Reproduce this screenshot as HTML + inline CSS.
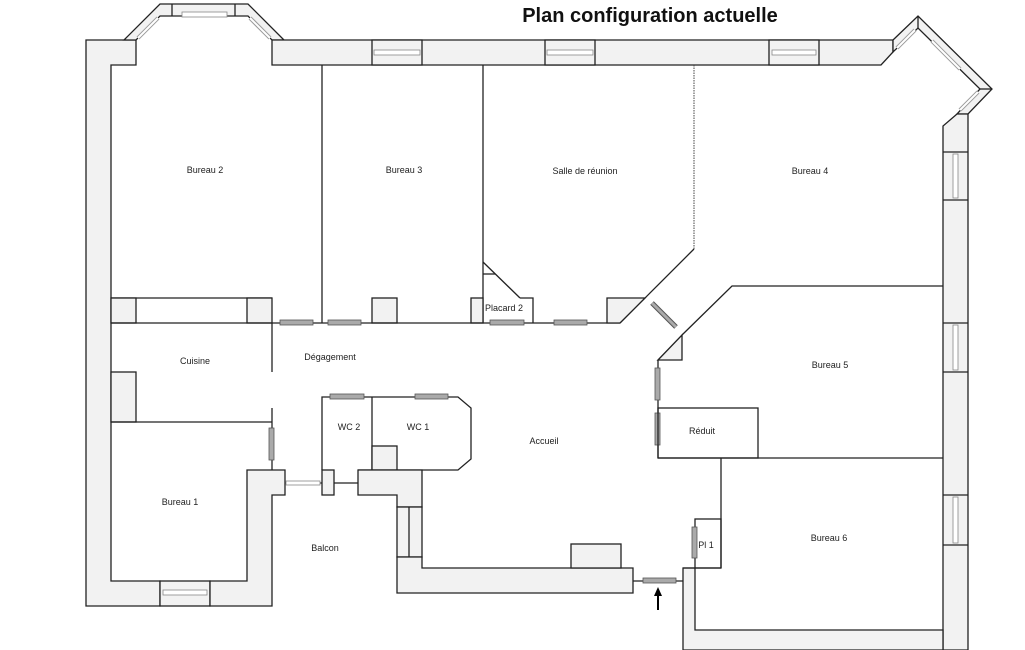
<!DOCTYPE html>
<html><head><meta charset="utf-8"><style>
html,body{margin:0;padding:0;background:#fff;}
svg{display:block;}
text{font-family:"Liberation Sans",Arial,sans-serif;font-size:9px;fill:#222;}
.w{fill:#f2f2f2;stroke:#222;stroke-width:1.3;}
.l{stroke:#222;stroke-width:1.3;fill:none;}
.g{fill:#aaa;stroke:#555;stroke-width:0.8;}
.o{fill:#fff;stroke:#888;stroke-width:0.8;}
</style></head><body>
<svg width="1025" height="650" viewBox="0 0 1025 650" xmlns="http://www.w3.org/2000/svg">
<text x="650" y="22" text-anchor="middle" style="font-size:20px;font-weight:bold;fill:#111">Plan configuration actuelle</text>

<!-- left outer wall -->
<polygon class="w" points="86,40 136,40 136,65 111,65 111,581 160,581 160,606 86,606"/>
<rect class="w" x="160" y="581" width="50" height="25"/>
<rect class="o" x="163" y="590" width="44" height="5"/>
<polygon class="w" points="210,581 247,581 247,470 285,470 285,495 272,495 272,606 210,606"/>
<!-- NW bay -->
<polygon class="w" points="124,40 160,4 248,4 284,40 272,40 248,16 160,16 136,40"/>
<line class="l" x1="172" y1="4" x2="172" y2="16"/><line class="l" x1="235" y1="4" x2="235" y2="16"/>
<rect class="o" x="182" y="12" width="45" height="5"/>
<line x1="138" y1="38" x2="158" y2="18" stroke="#999" stroke-width="4"/>
<line x1="138" y1="38" x2="158" y2="18" stroke="#fff" stroke-width="2"/>
<line x1="250" y1="18" x2="270" y2="38" stroke="#999" stroke-width="4"/>
<line x1="250" y1="18" x2="270" y2="38" stroke="#fff" stroke-width="2"/>
<!-- top wall -->
<polygon class="w" points="272,40 893,40 893,52 881,65 272,65"/>
<rect class="w" x="372" y="40" width="50" height="25"/><rect class="o" x="374" y="50" width="46" height="5"/>
<rect class="w" x="545" y="40" width="50" height="25"/><rect class="o" x="547" y="50" width="46" height="5"/>
<rect class="w" x="769" y="40" width="50" height="25"/><rect class="o" x="772" y="50" width="44" height="5"/>
<!-- NE bay -->
<polygon class="w" points="893,40 918,16 992,89 968,114 957,114 980,89 918,28 893,52"/>
<line class="l" x1="918" y1="16" x2="918" y2="28"/><line class="l" x1="980" y1="89" x2="992" y2="89"/>
<line x1="897" y1="48" x2="915" y2="30" stroke="#999" stroke-width="4"/><line x1="897" y1="48" x2="915" y2="30" stroke="#fff" stroke-width="2"/>
<line x1="932" y1="41" x2="960" y2="69" stroke="#999" stroke-width="4"/><line x1="932" y1="41" x2="960" y2="69" stroke="#fff" stroke-width="2"/>
<line x1="960" y1="110" x2="978" y2="92" stroke="#999" stroke-width="4"/><line x1="960" y1="110" x2="978" y2="92" stroke="#fff" stroke-width="2"/>
<!-- right wall -->
<polygon class="w" points="957,114 968,114 968,650 943,650 943,126"/>
<line class="l" x1="943" y1="152" x2="968" y2="152"/><line class="l" x1="943" y1="200" x2="968" y2="200"/>
<rect class="o" x="953" y="154" width="5" height="44"/>
<line class="l" x1="943" y1="323" x2="968" y2="323"/><line class="l" x1="943" y1="372" x2="968" y2="372"/>
<rect class="o" x="953" y="325" width="5" height="45"/>
<line class="l" x1="943" y1="495" x2="968" y2="495"/><line class="l" x1="943" y1="545" x2="968" y2="545"/>
<rect class="o" x="953" y="497" width="5" height="46"/>
<!-- bottom right wall -->
<polygon class="w" points="683,568 695,568 695,630 943,630 943,650 683,650"/>

<!-- interior walls top rooms -->
<line class="l" x1="322" y1="65" x2="322" y2="323"/>
<line class="l" x1="483" y1="65" x2="483" y2="323"/>
<line x1="694" y1="65" x2="694" y2="249" stroke="#444" stroke-width="1" stroke-dasharray="1.5,1"/>
<line class="l" x1="694" y1="249" x2="620" y2="323"/>
<line class="l" x1="111" y1="298" x2="272" y2="298"/>
<rect class="w" x="111" y="298" width="25" height="25"/>
<rect class="w" x="247" y="298" width="25" height="25"/>
<rect class="w" x="372" y="298" width="25" height="25"/>
<rect class="w" x="471" y="298" width="12" height="25"/>
<line class="l" x1="111" y1="323" x2="620" y2="323"/>
<polygon class="w" points="607,298 645,298 620,323 607,323"/>
<!-- placard -->
<line class="l" x1="483" y1="262" x2="520" y2="298"/>
<line class="l" x1="483" y1="274" x2="495" y2="274"/>
<polyline class="l" points="520,298 533,298 533,323"/>
<!-- gray windows y=323 -->
<rect class="g" x="280" y="320" width="33" height="5"/>
<rect class="g" x="328" y="320" width="33" height="5"/>
<rect class="g" x="490" y="320" width="34" height="5"/>
<rect class="g" x="554" y="320" width="33" height="5"/>
<line x1="652" y1="303" x2="676" y2="327" stroke="#555" stroke-width="5"/>
<line x1="652" y1="303" x2="676" y2="327" stroke="#aaa" stroke-width="3"/>
<!-- bureau 5 -->
<polyline class="l" points="682,335 732,286 943,286"/>
<polygon class="w" points="658,360 682,335 682,360"/>
<line class="l" x1="658" y1="360" x2="658" y2="458"/>
<rect class="g" x="655" y="368" width="5" height="32"/>
<rect class="g" x="655" y="413" width="5" height="32"/>
<rect class="l" x="658" y="408" width="100" height="50"/>
<line class="l" x1="658" y1="458" x2="943" y2="458"/>
<line class="l" x1="721" y1="458" x2="721" y2="568"/>
<rect class="l" x="695" y="519" width="26" height="49"/>
<rect class="g" x="692" y="527" width="5" height="31"/>
<line class="l" x1="683" y1="568" x2="721" y2="568"/>

<!-- cuisine / bureau 1 -->
<line class="l" x1="272" y1="323" x2="272" y2="372"/>
<line class="l" x1="272" y1="408" x2="272" y2="470"/>
<rect class="g" x="269" y="428" width="5" height="32"/>
<rect class="w" x="111" y="372" width="25" height="50"/>
<line class="l" x1="111" y1="422" x2="272" y2="422"/>
<line class="l" x1="285" y1="483" x2="322" y2="483"/>
<rect class="o" x="286" y="481" width="34" height="4"/>
<!-- WCs -->
<polyline class="l" points="322,470 322,397 458,397 471,408 471,459 458,470 358,470"/>
<line class="l" x1="372" y1="397" x2="372" y2="470"/>
<rect class="g" x="330" y="394" width="34" height="5"/>
<rect class="g" x="415" y="394" width="33" height="5"/>
<rect class="w" x="372" y="446" width="25" height="24"/>
<rect class="w" x="322" y="470" width="12" height="25"/>
<line class="l" x1="334" y1="483" x2="358" y2="483"/>
<polygon class="w" points="358,470 422,470 422,507 397,507 397,495 358,495"/>
<rect class="w" x="397" y="507" width="25" height="50"/>
<line class="l" x1="409" y1="507" x2="409" y2="557"/>
<polygon class="w" points="397,557 422,557 422,568 633,568 633,593 397,593"/>
<rect class="w" x="571" y="544" width="50" height="24"/>
<line class="l" x1="633" y1="581" x2="683" y2="581"/>
<rect class="g" x="643" y="578" width="33" height="5"/>
<line x1="658" y1="610" x2="658" y2="594" stroke="#000" stroke-width="2"/>
<polygon points="658,587 654,596 662,596" fill="#000"/>

<!-- labels -->
<text x="205" y="173" text-anchor="middle">Bureau 2</text>
<text x="404" y="173" text-anchor="middle">Bureau 3</text>
<text x="585" y="174" text-anchor="middle">Salle de réunion</text>
<text x="810" y="174" text-anchor="middle">Bureau 4</text>
<text x="504" y="311" text-anchor="middle">Placard 2</text>
<text x="195" y="364" text-anchor="middle">Cuisine</text>
<text x="330" y="360" text-anchor="middle">Dégagement</text>
<text x="349" y="430" text-anchor="middle">WC 2</text>
<text x="418" y="430" text-anchor="middle">WC 1</text>
<text x="544" y="444" text-anchor="middle">Accueil</text>
<text x="702" y="434" text-anchor="middle">Réduit</text>
<text x="830" y="368" text-anchor="middle">Bureau 5</text>
<text x="180" y="505" text-anchor="middle">Bureau 1</text>
<text x="325" y="551" text-anchor="middle">Balcon</text>
<text x="706" y="548" text-anchor="middle">Pl 1</text>
<text x="829" y="541" text-anchor="middle">Bureau 6</text>
</svg>
</body></html>
